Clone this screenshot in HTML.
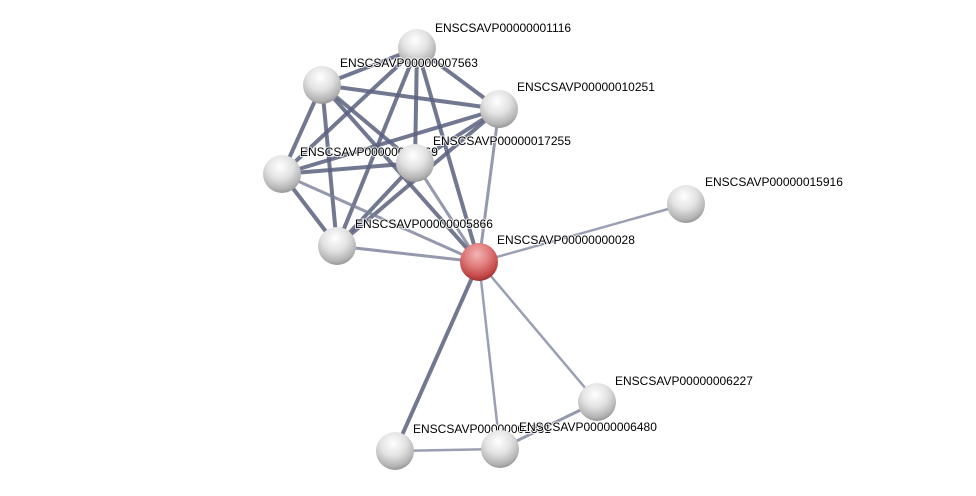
<!DOCTYPE html>
<html><head><meta charset="utf-8"><style>body{margin:0;background:#fff}svg{display:block}text{font-family:"Liberation Sans",sans-serif;font-size:12px;fill:#000;paint-order:stroke;stroke:#fff;stroke-width:2px;stroke-opacity:0.8}</style></head>
<body>
<svg width="976" height="496" viewBox="0 0 976 496">
<defs>
<radialGradient id="w" cx="0.45" cy="0.3" r="0.75"><stop offset="0" stop-color="#ffffff"/><stop offset="0.45" stop-color="#e2e2e2"/><stop offset="0.8" stop-color="#b4b4b4"/><stop offset="1" stop-color="#888"/></radialGradient>
<radialGradient id="r" cx="0.45" cy="0.3" r="0.75"><stop offset="0" stop-color="#f4b4b4"/><stop offset="0.45" stop-color="#e07a7a"/><stop offset="0.8" stop-color="#c04545"/><stop offset="1" stop-color="#8a2525"/></radialGradient>
</defs>
<g stroke="#5a607e" stroke-width="4" stroke-opacity="0.85">
<line x1="322" y1="85" x2="417" y2="48"/><line x1="322" y1="85" x2="499" y2="109"/><line x1="322" y1="85" x2="282" y2="174"/><line x1="322" y1="85" x2="415" y2="163"/><line x1="322" y1="85" x2="337" y2="246"/><line x1="322" y1="85" x2="479" y2="262"/>
<line x1="417" y1="48" x2="499" y2="109"/><line x1="417" y1="48" x2="282" y2="174"/><line x1="417" y1="48" x2="415" y2="163"/><line x1="417" y1="48" x2="337" y2="246"/><line x1="417" y1="48" x2="479" y2="262"/>
<line x1="499" y1="109" x2="282" y2="174"/><line x1="499" y1="109" x2="415" y2="163"/><line x1="499" y1="109" x2="337" y2="246"/>
<line x1="282" y1="174" x2="415" y2="163"/><line x1="282" y1="174" x2="337" y2="246"/>
<line x1="415" y1="163" x2="337" y2="246"/>
<line x1="479" y1="262" x2="395" y2="451"/>
</g>
<g stroke="#7a8098" stroke-width="3" stroke-opacity="0.8">
<line x1="499" y1="109" x2="479" y2="262"/><line x1="282" y1="174" x2="479" y2="262"/><line x1="415" y1="163" x2="479" y2="262"/><line x1="337" y1="246" x2="479" y2="262"/>
<line x1="500" y1="449" x2="597" y2="402"/>
</g>
<g stroke="#9a9fb4" stroke-width="2.5">
<line x1="479" y1="262" x2="686" y2="204"/><line x1="479" y1="262" x2="597" y2="402"/><line x1="479" y1="262" x2="500" y2="449"/><line x1="395" y1="451" x2="500" y2="449"/>
</g>
<circle cx="395" cy="451" r="19" fill="url(#w)"/>
<text x="413" y="433">ENSCSAVP00000001881</text>
<circle cx="500" cy="449" r="19" fill="url(#w)"/>
<text x="519" y="431">ENSCSAVP00000006480</text>
<circle cx="282" cy="174" r="19" fill="url(#w)"/>
<text x="300" y="156">ENSCSAVP00000008069</text>
<circle cx="415" cy="163" r="19" fill="url(#w)"/>
<text x="433" y="145">ENSCSAVP00000017255</text>
<circle cx="417" cy="48" r="19" fill="url(#w)"/>
<text x="435" y="32">ENSCSAVP00000001116</text>
<circle cx="322" cy="85" r="19" fill="url(#w)"/>
<text x="340" y="67">ENSCSAVP00000007563</text>
<circle cx="499" cy="109" r="19" fill="url(#w)"/>
<text x="517" y="91">ENSCSAVP00000010251</text>
<circle cx="337" cy="246" r="19" fill="url(#w)"/>
<text x="355" y="228">ENSCSAVP00000005866</text>
<circle cx="686" cy="204" r="19" fill="url(#w)"/>
<text x="705" y="186">ENSCSAVP00000015916</text>
<circle cx="597" cy="402" r="19" fill="url(#w)"/>
<text x="615" y="385">ENSCSAVP00000006227</text>
<circle cx="479" cy="262" r="19" fill="url(#r)"/>
<text x="497" y="244">ENSCSAVP00000000028</text>
</svg>
</body></html>
